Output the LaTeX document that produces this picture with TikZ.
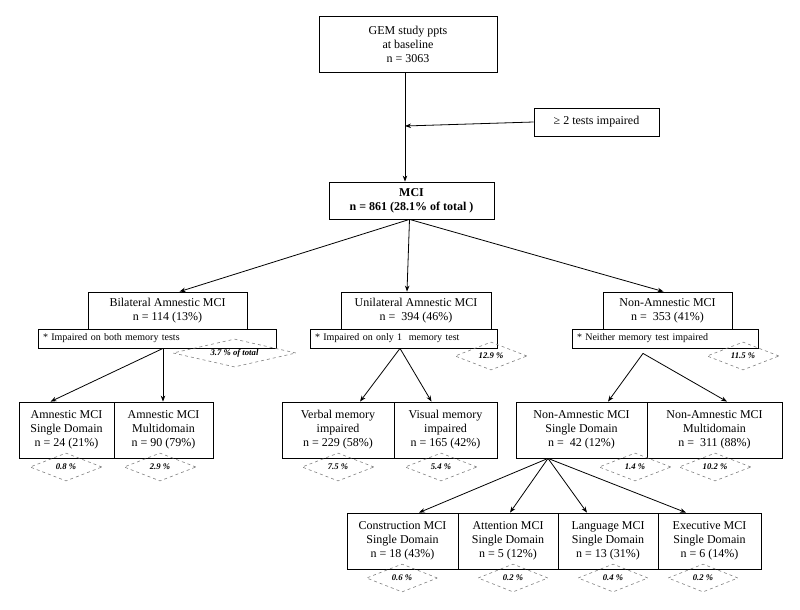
\documentclass[tikz,border=0pt]{standalone}
\usepackage{fontspec}
\setmainfont{Liberation Serif}
\usetikzlibrary{arrows.meta,shapes.geometric,calc}
\begin{document}
\begin{tikzpicture}[x=1pt,y=-1pt,
  box/.style={draw,line width=0.8pt,rectangle,inner sep=0pt,align=center,
    font=\fontsize{12}{14}\selectfont},
  note/.style={draw,line width=0.8pt,rectangle,inner sep=0pt,minimum height=19pt,
    font=\fontsize{10}{12}\selectfont,text depth=2pt},
  pct/.style={draw=gray,dashed,line width=0.6pt,diamond,aspect=5,inner sep=0pt,
    minimum width=72pt,minimum height=28pt,font=\fontsize{8.7}{10}\selectfont\bfseries\itshape},
  arr/.style={line width=0.8pt,-{Stealth[length=6pt,width=4.5pt]}},
  ln/.style={line width=0.8pt}]
\useasboundingbox (0,0) rectangle (800,610);
% top
\node[box,minimum width=178pt,minimum height=56pt] (top) at (408,44) {GEM study ppts\\at baseline\\n = 3063};
\node[box,minimum width=125pt,minimum height=28pt] (crit) at (596.5,122) {≥ 2 tests impaired};
\node[box,minimum width=165pt,minimum height=37pt,font=\fontsize{12}{14}\selectfont\bfseries] (mci) at (411.5,200.5) {MCI\\n = 861 (28.1\% of total )};
\coordinate (j) at (405,126);
\draw[ln] (top.south -| j) -- (j);
\draw[arr] (j) -- (mci.north -| j);
\draw[arr] (crit.west) -- (j);
% level 1
\node[box,minimum width=159pt,minimum height=37pt] (bil) at (167.5,310.5) {Bilateral Amnestic MCI\\n = 114 (13\%)};
\node[note,minimum width=238pt,text width=228pt,align=left] (bilnote) at (157,338.5) {* Impaired on both memory tests};
\node[box,minimum width=150pt,minimum height=37pt] (uni) at (416,310.5) {Unilateral Amnestic MCI\\n =\ \ 394 (46\%)};
\node[note,minimum width=187pt,text width=177pt,align=left] (uninote) at (403.5,338.5) {* Impaired on only 1\ \ memory test};
\node[box,minimum width=129pt,minimum height=37pt] (non) at (667.5,310.5) {Non-Amnestic MCI\\n =\ \ 353 (41\%)};
\node[note,minimum width=186pt,text width=176pt,align=left] (nonnote) at (665,338.5) {* Neither memory test impaired};
\draw[arr] ([xshift=-2pt]mci.south) -- ([xshift=12pt]bil.north);
\draw[arr] ([xshift=-2pt]mci.south) -- ([xshift=-9pt]uni.north);
\draw[arr] ([xshift=-2pt]mci.south) -- ([xshift=-4pt]non.north);
\node[pct,minimum width=123pt] (p0) at (234.5,353) {3.7 \% of total};
\node[pct] (p1) at (491,356) {12.9 \%};
\node[pct] (p2) at (743,356) {11.5 \%};
% level 2
\node[box,minimum width=95pt,minimum height=56pt] (as) at (66.5,430) {Amnestic MCI\\Single Domain\\n = 24 (21\%)};
\node[box,minimum width=99pt,minimum height=56pt] (am) at (163.5,430) {Amnestic MCI\\Multidomain\\n = 90 (79\%)};
\node[box,minimum width=112pt,minimum height=56pt] (verb) at (338,430) {Verbal memory\\impaired\\n = 229 (58\%)};
\node[box,minimum width=103pt,minimum height=56pt] (vis) at (445.5,430) {Visual memory\\impaired\\n = 165 (42\%)};
\node[box,minimum width=131pt,minimum height=56pt] (nas) at (581.5,430) {Non-Amnestic MCI\\Single Domain\\n =\ \ 42 (12\%)};
\node[box,minimum width=135pt,minimum height=56pt] (nam) at (714.5,430) {Non-Amnestic MCI\\Multidomain\\n =\ \ 311 (88\%)};
\coordinate (ba) at ([xshift=6pt]bilnote.south);
\draw[arr] (ba) -- ([xshift=-16pt]as.north);
\draw[arr] (ba) -- (ba |- am.north);
\coordinate (ua) at ([xshift=-3.5pt]uninote.south);
\draw[arr] (ua) -- ([xshift=22pt]verb.north);
\draw[arr] (ua) -- ([xshift=-14pt]vis.north);
\coordinate (na) at ([xshift=-22pt,yshift=-5pt]nonnote.south);
\draw[arr] (na) -- ([xshift=26.5pt]nas.north);
\draw[arr] (na) -- ([xshift=12.5pt]nam.north);
\node[pct] at (66,467) {0.8 \%};
\node[pct] at (160,467) {2.9 \%};
\node[pct] at (338,467) {7.5 \%};
\node[pct] at (441,467) {5.4 \%};
\node[pct] at (635,467) {1.4 \%};
\node[pct] at (715,467) {10.2 \%};
% level 3
\node[box,minimum width=111pt,minimum height=56pt] (con) at (402.5,541) {Construction MCI\\Single Domain\\n = 18 (43\%)};
\node[box,minimum width=100pt,minimum height=56pt] (att) at (508,541) {Attention MCI\\Single Domain\\n = 5 (12\%)};
\node[box,minimum width=100pt,minimum height=56pt] (lang) at (608,541) {Language MCI\\Single Domain\\n = 13 (31\%)};
\node[box,minimum width=103pt,minimum height=56pt] (exec) at (709.5,541) {Executive MCI\\Single Domain\\n = 6 (14\%)};
\coordinate (sa) at ([xshift=-33.5pt]nas.south);
\draw[arr] (sa) -- ([xshift=16.5pt]con.north);
\draw[arr] (sa) -- ([xshift=2pt]att.north);
\draw[arr] (sa) -- ([xshift=-21pt]lang.north);
\draw[arr] (sa) -- ([xshift=-23.5pt]exec.north);
\node[pct,minimum width=71pt] at (402,578) {0.6 \%};
\node[pct,minimum width=70pt] at (513,578) {0.2 \%};
\node[pct,minimum width=70pt] at (613,578) {0.4 \%};
\node[pct,minimum width=70pt] at (703,578) {0.2 \%};
\end{tikzpicture}
\end{document}
